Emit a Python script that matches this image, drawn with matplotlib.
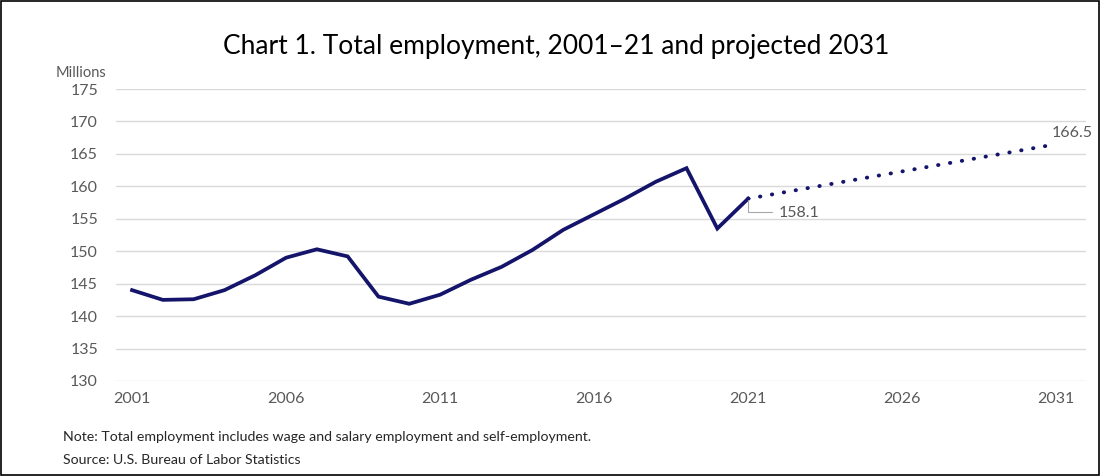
import matplotlib
matplotlib.use('Agg')
import matplotlib.pyplot as plt
from matplotlib.patches import Rectangle

plt.rcParams['font.family'] = ['Lato', 'DejaVu Sans']

# historical employment, millions
years = list(range(2001, 2022))
employment = [144.0, 142.5, 142.6, 144.0, 146.3, 149.0, 150.3, 149.2, 143.0, 141.9,
              143.3, 145.6, 147.6, 150.2, 153.3, 155.7, 158.1, 160.7, 162.8, 153.5, 158.1]

# projection endpoints
proj_years = [2021, 2031]
proj_values = [158.1, 166.5]

xticks = [2001, 2006, 2011, 2016, 2021, 2026, 2031]
yticks = list(range(130, 180, 5))

navy = '#14146b'
grey_text = '#595959'

fig = plt.figure(figsize=(11.01, 4.76), dpi=100)
ax = fig.add_axes([0.1054, 0.1996, 0.881, 0.6134])

for y in yticks:
    ax.axhline(y, color='#d9d9d9', lw=1.0, zorder=0)

ax.plot(years, employment, color=navy, lw=2.7, solid_joinstyle='miter', zorder=3)
ax.plot(proj_years, proj_values, color=navy, lw=2.8, linestyle=(0, (0.1, 3.0)),
        dash_capstyle='round', zorder=3)

ax.set_xlim(2000.48, 2031.97)
ax.set_ylim(130, 175)
ax.set_xticks(xticks)
ax.set_yticks(yticks)
ax.tick_params(length=0, labelsize=11.5, colors=grey_text, pad=8)
ax.tick_params(axis='y', pad=13)
for s in ax.spines.values():
    s.set_visible(False)

# data labels
ax.annotate(f'{proj_values[0]:.1f}', xy=(proj_years[0], proj_values[0]),
            xytext=(22, -10), textcoords='offset points', fontsize=11.5,
            color=grey_text, va='center', ha='left',
            arrowprops=dict(arrowstyle='-', color='#a6a6a6', lw=0.8,
                            connectionstyle='angle,angleA=0,angleB=90,rad=0',
                            shrinkA=3, shrinkB=1, relpos=(0, 0.55)))
ax.annotate(f'{proj_values[1]:.1f}', xy=(proj_years[1], proj_values[1]),
            xytext=(-3, 3), textcoords='offset points', fontsize=11.5,
            color=grey_text, va='bottom', ha='left')

fig.text(0.097, 0.847, 'Millions', fontsize=10.5, color=grey_text, ha='right', va='center')
fig.text(0.505, 0.903, 'Chart 1. Total employment, 2001–21 and projected 2031',
         fontsize=19, color='black', ha='center', va='center')
fig.text(0.057, 0.082, 'Note: Total employment includes wage and salary employment and self-employment.',
         fontsize=10.2, color='#262626', ha='left', va='center')
fig.text(0.057, 0.034, 'Source: U.S. Bureau of Labor Statistics',
         fontsize=10.2, color='#262626', ha='left', va='center')

fig.patches.append(Rectangle((0.001, 0.002), 0.997, 0.995, transform=fig.transFigure,
                             fill=False, edgecolor='black', lw=1.2))

fig.savefig('out.png', dpi=100)
